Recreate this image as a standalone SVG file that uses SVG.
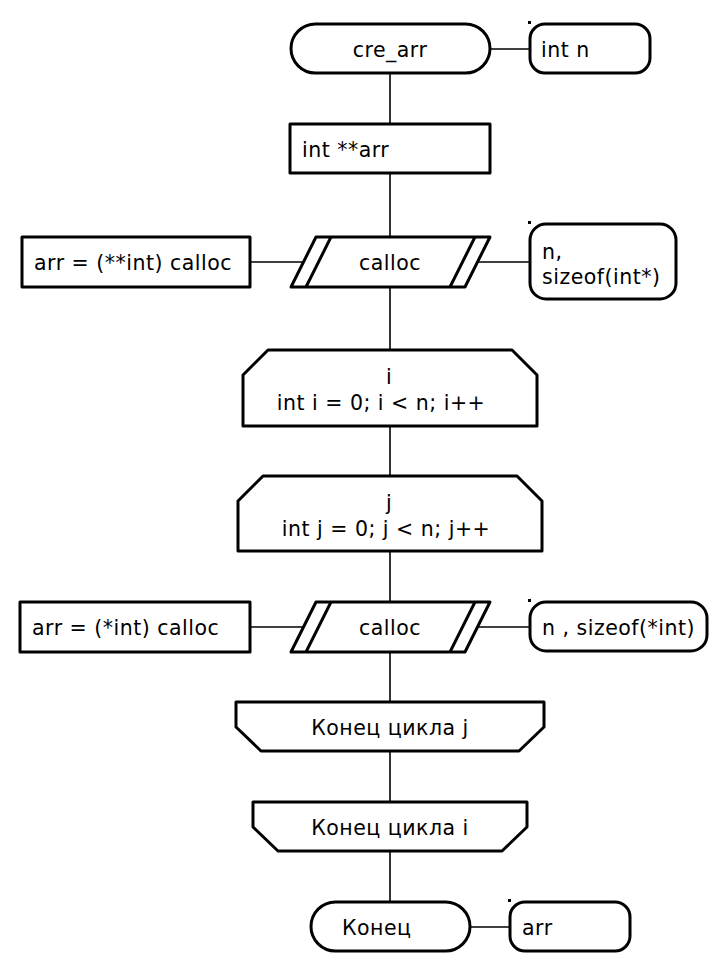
<svg xmlns="http://www.w3.org/2000/svg" width="727" height="976" viewBox="0 0 727 976">
<style>
.s{fill:#fff;stroke:#000;stroke-width:3;stroke-linejoin:round}
.c{fill:none;stroke:#000;stroke-width:1.6}
.t{font-family:"DejaVu Sans",sans-serif;font-size:20.5px;letter-spacing:0.5px;fill:#000}
.m{text-anchor:middle}
.d{fill:#000}
</style>
<rect width="727" height="976" fill="#fff"/>
<g id="connectors">
<line class="c" x1="390" y1="73" x2="390" y2="902"/>
<line class="c" x1="490" y1="49" x2="530" y2="49"/>
<line class="c" x1="250" y1="262" x2="304" y2="262"/>
<line class="c" x1="477" y1="262" x2="530" y2="262"/>
<line class="c" x1="250" y1="627" x2="304" y2="627"/>
<line class="c" x1="477" y1="627" x2="530" y2="627"/>
<line class="c" x1="470" y1="927" x2="510" y2="927"/>
</g>
<g id="start">
<rect class="s" x="291" y="24" width="199" height="49" rx="24.5"/>
<text class="t m" x="390" y="57">cre_arr</text>
</g>
<g id="param_n">
<rect class="s" x="530" y="24" width="120" height="49" rx="15"/>
<rect class="d" x="528" y="21" width="3" height="3"/>
<text class="t" x="541" y="57">int n</text>
</g>
<g id="decl_arr">
<rect class="s" x="290" y="124" width="200" height="49"/>
<text class="t" x="302" y="157">int **arr</text>
</g>
<g id="calloc1">
<polygon class="s" points="316,237 490,237 465,287 291,287"/>
<line class="s" x1="331" y1="237" x2="306" y2="287"/>
<line class="s" x1="475" y1="237" x2="450" y2="287"/>
<text class="t m" x="390" y="270">calloc</text>
</g>
<g id="assign1">
<rect class="s" x="22" y="237" width="228" height="50"/>
<text class="t" x="34" y="270">arr = (**int) calloc</text>
</g>
<g id="args1">
<rect class="s" x="530" y="224" width="146" height="75" rx="16"/>
<rect class="d" x="528" y="221" width="3" height="3"/>
<text class="t" x="542" y="259">n,</text>
<text class="t" x="542" y="284">sizeof(int*)</text>
</g>
<g id="loop_i">
<polygon class="s" points="268,350 512,350 537,375 537,426 243,426 243,375"/>
<text class="t m" x="389" y="384">i</text>
<text class="t m" x="381" y="410">int i = 0; i &lt; n; i++</text>
</g>
<g id="loop_j">
<polygon class="s" points="263,476 517,476 542,501 542,551 238,551 238,501"/>
<text class="t m" x="389" y="510">j</text>
<text class="t m" x="386" y="536">int j = 0; j &lt; n; j++</text>
</g>
<g id="calloc2">
<polygon class="s" points="316,602 490,602 465,652 291,652"/>
<line class="s" x1="331" y1="602" x2="306" y2="652"/>
<line class="s" x1="475" y1="602" x2="450" y2="652"/>
<text class="t m" x="390" y="635">calloc</text>
</g>
<g id="assign2">
<rect class="s" x="20" y="602" width="230" height="50"/>
<text class="t" x="32" y="635">arr = (*int) calloc</text>
</g>
<g id="args2">
<rect class="s" x="530" y="602" width="177" height="49" rx="16"/>
<rect class="d" x="528" y="599" width="3" height="3"/>
<text class="t" x="542" y="635">n , sizeof(*int)</text>
</g>
<g id="end_j">
<polygon class="s" points="236,702 544,702 544,727 519,751 261,751 236,727"/>
<text class="t m" x="390" y="735">Конец цикла j</text>
</g>
<g id="end_i">
<polygon class="s" points="253,802 527,802 527,827 502,851 278,851 253,827"/>
<text class="t m" x="390" y="835">Конец цикла i</text>
</g>
<g id="end">
<rect class="s" x="311" y="902" width="159" height="49" rx="24.5"/>
<text class="t" x="342" y="935">Конец</text>
</g>
<g id="result">
<rect class="s" x="510" y="902" width="120" height="49" rx="15"/>
<rect class="d" x="508" y="899" width="3" height="3"/>
<text class="t" x="522" y="935">arr</text>
</g>
</svg>
